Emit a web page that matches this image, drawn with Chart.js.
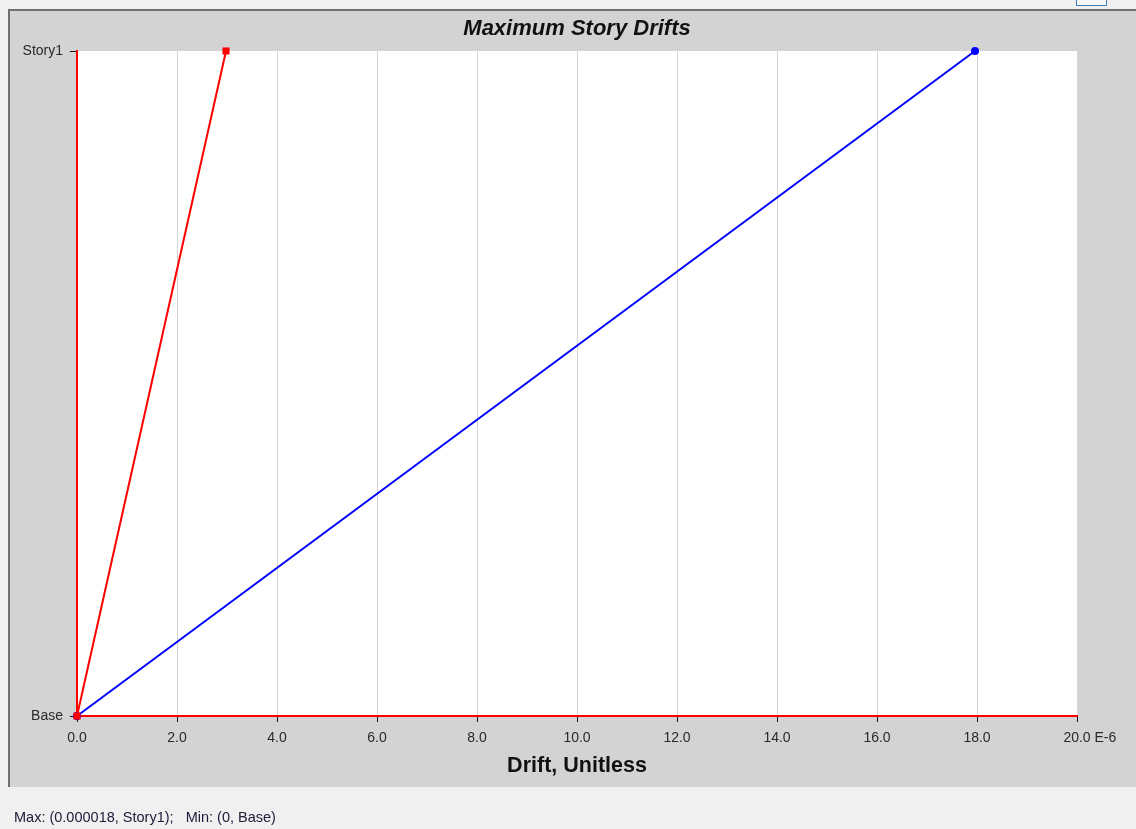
<!DOCTYPE html>
<html>
<head>
<meta charset="utf-8">
<title>Maximum Story Drifts</title>
<script src="https://cdn.jsdelivr.net/npm/chart.js@4/dist/chart.umd.min.js"></script>
<style>
  html, body { margin: 0; padding: 0; background: #f0f0f0; overflow: hidden; }
  #wrap { position: relative; width: 1136px; height: 829px; }
  #chart { position: absolute; left: 0; top: 0; }
  #status {
    position: absolute; left: 14px; top: 809px;
    font: 14.5px "Liberation Sans", Arial, sans-serif; color: #20203c;
    white-space: pre;
  }
  #btn {
    position: absolute; left: 1076px; top: -20px; width: 29px; height: 24px;
    border: 1px solid #3d7fc4; background: #f7f7f7;
  }
</style>
</head>
<body>
<div id="wrap">
  <canvas id="chart" width="1136" height="829"></canvas>
  <div id="btn"></div>
  <div id="status">Max: (0.000018, Story1);   Min: (0, Base)</div>
</div>
<script>
// Story levels, bottom to top
const storyLabels = ['Base', 'Story1'];
// Drift values per story, in units of 1E-6
const driftRed = [0, 2.98];
const driftBlue = [0, 17.96];
// Drift axis range and step (1E-6)
const xMin = 0, xMax = 20, xStep = 2;
const xExponent = 'E-6';

const PANEL = { left: 9, top: 10, bottom: 787 };

const toPoints = (vals) => vals.map((v, i) => ({ x: v, y: i }));

// Gray panel, frame and white plot background
const panelPlugin = {
  id: 'panel',
  beforeDraw(chart) {
    const { ctx, chartArea: a, width } = chart;
    ctx.save();
    ctx.fillStyle = '#f0f0f0';
    ctx.fillRect(0, 0, width, chart.height);
    ctx.fillStyle = '#d3d3d3';
    ctx.fillRect(PANEL.left, PANEL.top, width - PANEL.left, PANEL.bottom - PANEL.top);
    ctx.strokeStyle = '#6f6f6f';
    ctx.lineWidth = 2;
    ctx.beginPath();
    ctx.moveTo(PANEL.left, PANEL.bottom);
    ctx.lineTo(PANEL.left, PANEL.top);
    ctx.lineTo(width, PANEL.top);
    ctx.stroke();
    ctx.fillStyle = '#ffffff';
    ctx.fillRect(a.left, a.top, a.right - a.left, a.bottom - a.top);
    ctx.restore();
  },
  afterDraw(chart) {
    const { ctx, chartArea: a } = chart;
    ctx.save();
    // chart title
    ctx.font = 'italic bold 22px "Liberation Sans", Arial, sans-serif';
    ctx.fillStyle = '#111111';
    ctx.textAlign = 'center';
    ctx.textBaseline = 'middle';
    ctx.fillText('Maximum Story Drifts', (a.left + a.right) / 2, 29);
    // exponent suffix after the last drift tick label
    const xs = chart.scales.x;
    const lastLabel = xMax.toFixed(1);
    ctx.font = '14px "Liberation Sans", Arial, sans-serif';
    ctx.fillStyle = '#2a2a2a';
    ctx.textAlign = 'left';
    const w = ctx.measureText(lastLabel).width;
    ctx.fillText(' ' + xExponent, xs.getPixelForValue(xMax) + w / 2, 738.5);
    ctx.restore();
  }
};

new Chart(document.getElementById('chart'), {
  type: 'line',
  data: {
    datasets: [
      {
        label: 'Story1 drift (blue)',
        data: toPoints(driftBlue),
        borderColor: '#0000ff',
        backgroundColor: '#0000ff',
        borderWidth: 2,
        pointStyle: 'circle',
        pointRadius: 4,
        pointBorderWidth: 0,
        clip: false,
        order: 2
      },
      {
        label: 'Story1 drift (red)',
        data: toPoints(driftRed),
        borderColor: '#ff0000',
        backgroundColor: '#ff0000',
        borderWidth: 2,
        pointStyle: 'rect',
        pointRadius: 5,
        pointBorderWidth: 0,
        clip: false,
        order: 1
      }
    ]
  },
  options: {
    responsive: false,
    animation: false,
    events: [],
    layout: { padding: { top: 51, left: 10, right: 59, bottom: 829 - PANEL.bottom } },
    plugins: {
      legend: { display: false },
      title: { display: false },
      tooltip: { enabled: false }
    },
    scales: {
      x: {
        type: 'linear',
        min: xMin,
        max: xMax,
        afterFit(scale) { scale.height = PANEL.bottom - 716; },
        ticks: {
          stepSize: xStep,
          maxRotation: 0,
          padding: 8,
          color: '#2a2a2a',
          font: { family: '"Liberation Sans", Arial, sans-serif', size: 14 },
          callback: (v) => Number(v).toFixed(1)
        },
        grid: {
          color: '#d4d4d4',
          lineWidth: 1,
          tickColor: '#111111',
          tickLength: 6
        },
        border: { color: '#ff0000', width: 2 },
        title: {
          display: true,
          text: 'Drift, Unitless',
          color: '#111111',
          font: { family: '"Liberation Sans", Arial, sans-serif', size: 21.5, weight: 'bold' },
          padding: { top: 0, bottom: 8 }
        }
      },
      y: {
        type: 'linear',
        min: 0,
        max: storyLabels.length - 1,
        afterFit(scale) { scale.width = 67; },
        ticks: {
          stepSize: 1,
          padding: 7,
          color: '#2a2a2a',
          font: { family: '"Liberation Sans", Arial, sans-serif', size: 14 },
          callback: (v) => storyLabels[v] ?? ''
        },
        grid: {
          drawOnChartArea: false,
          tickColor: '#111111',
          tickLength: 7
        },
        border: { color: '#ff0000', width: 2 }
      }
    }
  },
  plugins: [panelPlugin]
});
</script>
</body>
</html>
